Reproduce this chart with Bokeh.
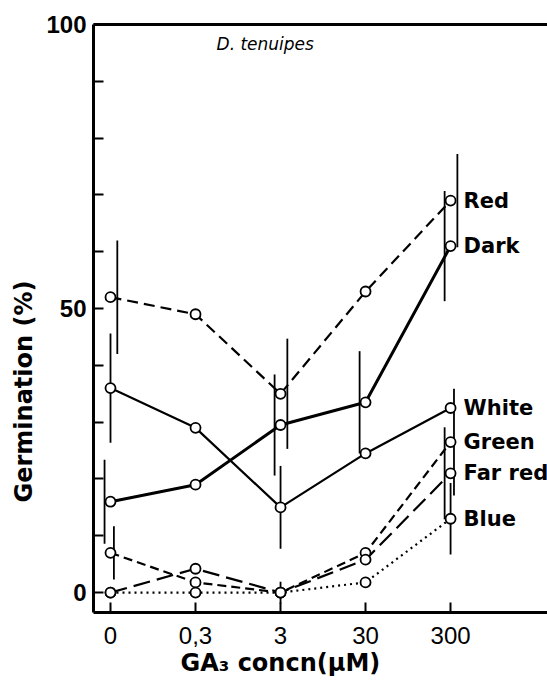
import math
from bokeh.plotting import figure
from bokeh.models import Range1d, FixedTicker, LinearAxis, Label, ColumnDataSource, Title
from bokeh.embed import file_html
from bokeh.resources import INLINE
from bokeh.core.properties import value

nan = float("nan")

# GA3 concentration categories (uM) and their positions on the axis
concentrations = ["0", "0,3", "3", "30", "300"]
conc_pos = [0, 1, 2, 3, 4]

# Germination (%) per light treatment
red = [52, 49, 35, 53, 69]
dark = [16, 19, 29.5, 33.5, 61]
white = [36, 29, 15, 24.5, 32.5]
green = [7, 1.8, 0, 7, 26.5]
far_red = [0, 4.2, 0, 5.8, 21]
blue = [0, 0, 0, 1.8, 13]

# error bar half-lengths (NaN = no bar drawn)
red_se = [10, nan, 9.7, nan, 8.2]
dark_se = [7.4, nan, 8.9, 9, 9.7]
white_se = [9.6, nan, 7.3, nan, nan]
green_se = [4.7, nan, nan, nan, 9.4]
far_red_se = [nan, nan, nan, nan, 8.1]
blue_se = [nan, nan, 1.9, nan, 6.3]

series_names = ["Red", "Dark", "White", "Green", "Far red", "Blue"]

p = figure(width=547, height=678, output_backend="svg", toolbar_location=None,
           x_range=Range1d(-0.2, 5.14), y_range=Range1d(-3.5, 100),
           min_border_left=93, min_border_right=0, min_border_top=24,
           min_border_bottom=66)
p.outline_line_color = None
p.grid.grid_line_color = None
p.background_fill_color = "white"

# axes
ax = p.xaxis[0]
ax.ticker = FixedTicker(ticks=conc_pos)
ax.major_label_overrides = {i: c for i, c in zip(conc_pos, concentrations)}
ax.major_tick_in = 10
ax.major_tick_out = 0
ax.minor_tick_line_color = None
ax.axis_line_width = 3
ax.major_tick_line_width = 2
ax.major_label_standoff = 14
ax.major_label_text_font = "Liberation Sans"
ax.major_label_text_font_size = "24px"
ax.major_label_text_color = "black"

ay = p.yaxis[0]
ay.ticker = FixedTicker(ticks=[0, 50, 100], minor_ticks=[10, 20, 30, 40, 60, 70, 80, 90])
ay.major_tick_in = 10
ay.major_tick_out = 0
ay.minor_tick_in = 10
ay.minor_tick_out = 0
ay.axis_line_width = 3
ay.major_tick_line_width = 2
ay.minor_tick_line_width = 2
ay.major_label_standoff = 7
ay.major_label_text_font = "Liberation Sans"
ay.major_label_text_font_style = "bold"
ay.major_label_text_font_size = "24px"
ay.major_label_text_color = "black"

top = LinearAxis(ticker=FixedTicker(ticks=[]), major_tick_line_color=None,
                 minor_tick_line_color=None, axis_line_width=3)
p.add_layout(top, "above")

styles = {
    "Red": dict(dash="11 6", width=2.2, dx=0.08),
    "Dark": dict(dash="solid", width=3.0, dx=-0.07),
    "White": dict(dash="solid", width=2.2, dx=0.0),
    "Green": dict(dash="9 5", width=2.2, dx=0.04),
    "Far red": dict(dash="17 7", width=2.2, dx=-0.07),
    "Blue": dict(dash="2 4", width=2.2, dx=0.0),
}
data = {"Red": (red, red_se), "Dark": (dark, dark_se), "White": (white, white_se),
        "Green": (green, green_se), "Far red": (far_red, far_red_se), "Blue": (blue, blue_se)}

# error bars
for name in series_names:
    vals, se = data[name]
    st = styles[name]
    xs, y0, y1 = [], [], []
    for x, v, e in zip(conc_pos, vals, se):
        if not math.isnan(e):
            xs.append(x + st["dx"])
            y0.append(v - e)
            y1.append(v + e)
    if xs:
        p.segment(x0=xs, x1=xs, y0=y0, y1=y1, line_color="black", line_width=1.8)

# lines
for name in series_names:
    vals, _ = data[name]
    st = styles[name]
    p.line(conc_pos, vals, line_color="black", line_width=st["width"], line_dash=st["dash"])

# markers
for name in series_names:
    vals, _ = data[name]
    p.scatter(conc_pos, vals, marker="circle", size=10, fill_color="white",
              line_color="black", line_width=1.8)

# series labels at the right end
lab_src = ColumnDataSource(dict(x=[conc_pos[-1]] * len(series_names),
                                y=[data[n][0][-1] for n in series_names],
                                t=series_names))
p.text(x="x", y="y", text="t", source=lab_src, x_offset=13,
       text_align="left", text_baseline="middle", text_font=value("DejaVu Sans"),
       text_font_style="bold", text_font_size="21px", text_color="black")

# title inside plot
p.add_layout(Label(x=1.82, y=96.5, text="D. tenuipes", text_align="center",
                   text_baseline="middle", text_font="DejaVu Sans",
                   text_font_style="italic", text_font_size="17px", text_color="black"))

# axis titles (as side titles so they can be offset along the axis)
p.add_layout(Title(text="GA₃ concn(μM)", align="left", offset=87, standoff=0,
                   text_font="DejaVu Sans", text_font_style="bold",
                   text_font_size="24px", text_color="black"), "below")
p.add_layout(Title(text="Germination (%)", align="left", offset=110, standoff=12,
                   text_font="DejaVu Sans", text_font_style="bold",
                   text_font_size="24px", text_color="black"), "left")

open("out.html", "w").write(file_html(p, INLINE))
